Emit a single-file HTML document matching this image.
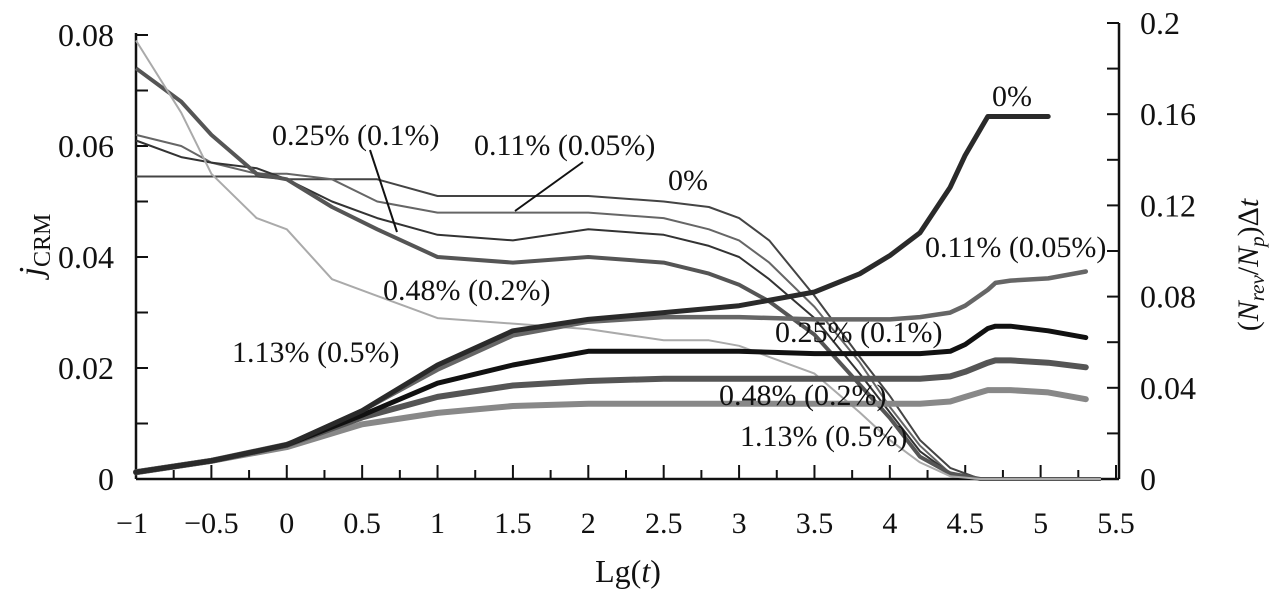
<!DOCTYPE html>
<html><head><meta charset="utf-8"><style>
body{margin:0;background:#fff;}
svg text{font-family:"Liberation Serif",serif;fill:#111;}
</style></head><body>
<svg id="chart" width="1273" height="600" xmlns="http://www.w3.org/2000/svg">
<g id="axes"></g>
<g id="marks"></g>
<g id="labels">
<text x="272" y="145" font-size="30">0.25% (0.1%)</text>
<text x="474" y="155" font-size="30">0.11% (0.05%)</text>
<text x="668" y="190" font-size="30">0%</text>
<text x="383" y="300" font-size="30">0.48% (0.2%)</text>
<text x="232" y="362" font-size="30">1.13% (0.5%)</text>
<text x="992" y="106" font-size="30">0%</text>
<text x="925" y="257" font-size="30">0.11% (0.05%)</text>
<text x="775" y="342" font-size="30">0.25% (0.1%)</text>
<text x="719" y="405" font-size="30">0.48% (0.2%)</text>
<text x="740" y="446" font-size="30">1.13% (0.5%)</text>
<line x1="370" y1="150" x2="397" y2="232" stroke="#111" stroke-width="2"/>
<line x1="583" y1="162" x2="515" y2="211" stroke="#111" stroke-width="2"/>
<text x="628" y="582" font-size="32" text-anchor="middle">Lg(<tspan font-style="italic">t</tspan>)</text>
<text transform="translate(42,245) rotate(-90)" font-size="34" text-anchor="middle"><tspan font-style="italic">j</tspan><tspan font-size="24" dy="8">CRM</tspan></text>
<text transform="translate(1258,265) rotate(-90)" font-size="30" text-anchor="middle">(<tspan font-style="italic">N</tspan><tspan font-style="italic" font-size="21" dy="6">rev</tspan><tspan dy="-6">/</tspan><tspan font-style="italic">N</tspan><tspan font-style="italic" font-size="21" dy="6">p</tspan><tspan dy="-6">)Δ</tspan><tspan font-style="italic">t</tspan></text>
</g>
</svg>
<script>
// Left-axis series: j_CRM vs Lg(t)
const jX = [-1,-0.7,-0.5,-0.2,0,0.3,0.6,1,1.5,2,2.5,2.8,3,3.2,3.5,3.8,4,4.2,4.4,4.6,5,5.4];
const j0   = [0.0545,0.0545,0.0545,0.0545,0.054,0.054,0.054,0.051,0.051,0.051,0.050,0.049,0.047,0.043,0.033,0.022,0.015,0.007,0.002,0,0,0];
const j011 = [0.062,0.060,0.057,0.055,0.055,0.054,0.050,0.048,0.048,0.048,0.047,0.045,0.043,0.039,0.031,0.021,0.013,0.006,0.001,0,0,0];
const j025 = [0.061,0.058,0.057,0.056,0.054,0.050,0.047,0.044,0.043,0.045,0.044,0.042,0.040,0.036,0.029,0.019,0.012,0.005,0.001,0,0,0];
const j048 = [0.074,0.068,0.062,0.055,0.054,0.049,0.045,0.040,0.039,0.040,0.039,0.037,0.035,0.032,0.026,0.017,0.011,0.004,0.001,0,0,0];
const j113 = [0.079,0.066,0.055,0.047,0.045,0.036,0.033,0.029,0.028,0.027,0.025,0.025,0.024,0.022,0.019,0.012,0.007,0.003,0.0005,0,0,0];
// Right-axis series: (Nrev/Np)Δt vs Lg(t)
const rX  = [-1,-0.5,0,0.5,1,1.5,2,2.5,3,3.5,3.8,4,4.2,4.4,4.5,4.65,4.7,4.8,5.05,5.3];
const r0  = [0.003,0.008,0.015,0.030,0.050,0.065,0.070,0.073,0.076,0.082,0.090,0.098,0.108,0.128,0.142,0.159,0.159,0.159,0.159,null];
const r011= [0.003,0.008,0.015,0.030,0.048,0.063,0.069,0.071,0.071,0.070,0.070,0.070,0.071,0.073,0.076,0.083,0.086,0.087,0.088,0.091];
const r025= [0.003,0.008,0.015,0.028,0.042,0.050,0.056,0.056,0.056,0.055,0.055,0.055,0.055,0.056,0.059,0.066,0.067,0.067,0.065,0.062];
const r048= [0.003,0.008,0.015,0.027,0.036,0.041,0.043,0.044,0.044,0.044,0.044,0.044,0.044,0.045,0.047,0.051,0.052,0.052,0.051,0.049];
const r113= [0.003,0.008,0.014,0.024,0.029,0.032,0.033,0.033,0.033,0.033,0.033,0.033,0.033,0.034,0.036,0.039,0.039,0.039,0.038,0.035];
const xTicks = [-1,-0.5,0,0.5,1,1.5,2,2.5,3,3.5,4,4.5,5,5.5];
const xTickLabels = ["\u22121","\u22120.5","0","0.5","1","1.5","2","2.5","3","3.5","4","4.5","5","5.5"];
const yLTicks = [0,0.02,0.04,0.06,0.08];
const yLTickLabels = ["0","0.02","0.04","0.06","0.08"];
const yRTicks = [0,0.04,0.08,0.12,0.16,0.2];
const yRTickLabels = ["0","0.04","0.08","0.12","0.16","0.2"];

const X0=136, X1=1116, Y0=479;
const sx = v => X0 + (v+1)/6.5*(X1-X0);
const syL = v => Y0 - v/0.08*(Y0-35);
const syR = v => Y0 - v/0.2*(Y0-23);
const NS="http://www.w3.org/2000/svg";
const axes=document.getElementById('axes'), marks=document.getElementById('marks');
function mk(tag,attrs,parent){const e=document.createElementNS(NS,tag);for(const k in attrs)e.setAttribute(k,attrs[k]);parent.appendChild(e);return e;}

let e;
e=mk('line',{x1:X0,y1:Y0,x2:1119,y2:Y0,stroke:'#111','stroke-width':2.5},axes);


e=mk('line',{x1:X0,y1:Y0,x2:X0,y2:33,stroke:'#111','stroke-width':2.5},axes);


e=mk('line',{x1:1119,y1:Y0,x2:1119,y2:23,stroke:'#111','stroke-width':2.5},axes);


for(let v=-1;v<=5.5001;v+=0.25){
  const major=Math.abs(v*2-Math.round(v*2))<1e-6;
  mk('line',{x1:sx(v),y1:Y0,x2:sx(v),y2:Y0-(major?14:9),stroke:'#111','stroke-width':2},axes);
}
xTicks.forEach((v,i)=>{
  e=mk('text',{x:sx(v)+(i==0?-4:0),y:533,'font-size':30,'text-anchor':'middle'},axes);
  e.textContent=xTickLabels[i];
  
  
});
for(let v=0;v<=0.0801;v+=0.01) mk('line',{x1:X0,y1:syL(v),x2:X0+12,y2:syL(v),stroke:'#111','stroke-width':2},axes);
yLTicks.forEach((v,i)=>{
  e=mk('text',{x:114,y:syL(v)+11,'font-size':32,'text-anchor':'end'},axes);
  e.textContent=yLTickLabels[i];
  
  
});
for(let v=0;v<=0.2001;v+=0.02) mk('line',{x1:1119,y1:syR(v),x2:1107,y2:syR(v),stroke:'#111','stroke-width':2},axes);
yRTicks.forEach((v,i)=>{
  e=mk('text',{x:1140,y:syR(v)+11,'font-size':32},axes);
  e.textContent=yRTickLabels[i];
  
  
});
function path(xs,ys,sy){let d='';xs.forEach((x,i)=>{if(ys[i]==null)return;d+=(d?'L':'M')+sx(x).toFixed(1)+','+sy(ys[i]).toFixed(1);});return d;}
const left=[[j0,'#444',2,'j-line-0'],[j011,'#666',2,'j-line-011'],[j025,'#333',2,'j-line-025'],[j048,'#555',4,'j-line-048'],[j113,'#aaa',2,'j-line-113']];
left.forEach(s=>{
  e=mk('path',{d:path(jX,s[0],syL),fill:'none',stroke:s[1],'stroke-width':s[2],'stroke-linejoin':'round'},marks);
  
  
});
const right=[[r113,'#888',6,'rev-line-113'],[r048,'#555',6,'rev-line-048'],[r025,'#111',5,'rev-line-025'],[r011,'#666',4.5,'rev-line-011'],[r0,'#2a2a2a',5,'rev-line-0']];
right.forEach(s=>{
  e=mk('path',{d:path(rX,s[0],syR),fill:'none',stroke:s[1],'stroke-width':s[2],'stroke-linejoin':'round','stroke-linecap':'round'},marks);
  
  
});
</script>
</body></html>
